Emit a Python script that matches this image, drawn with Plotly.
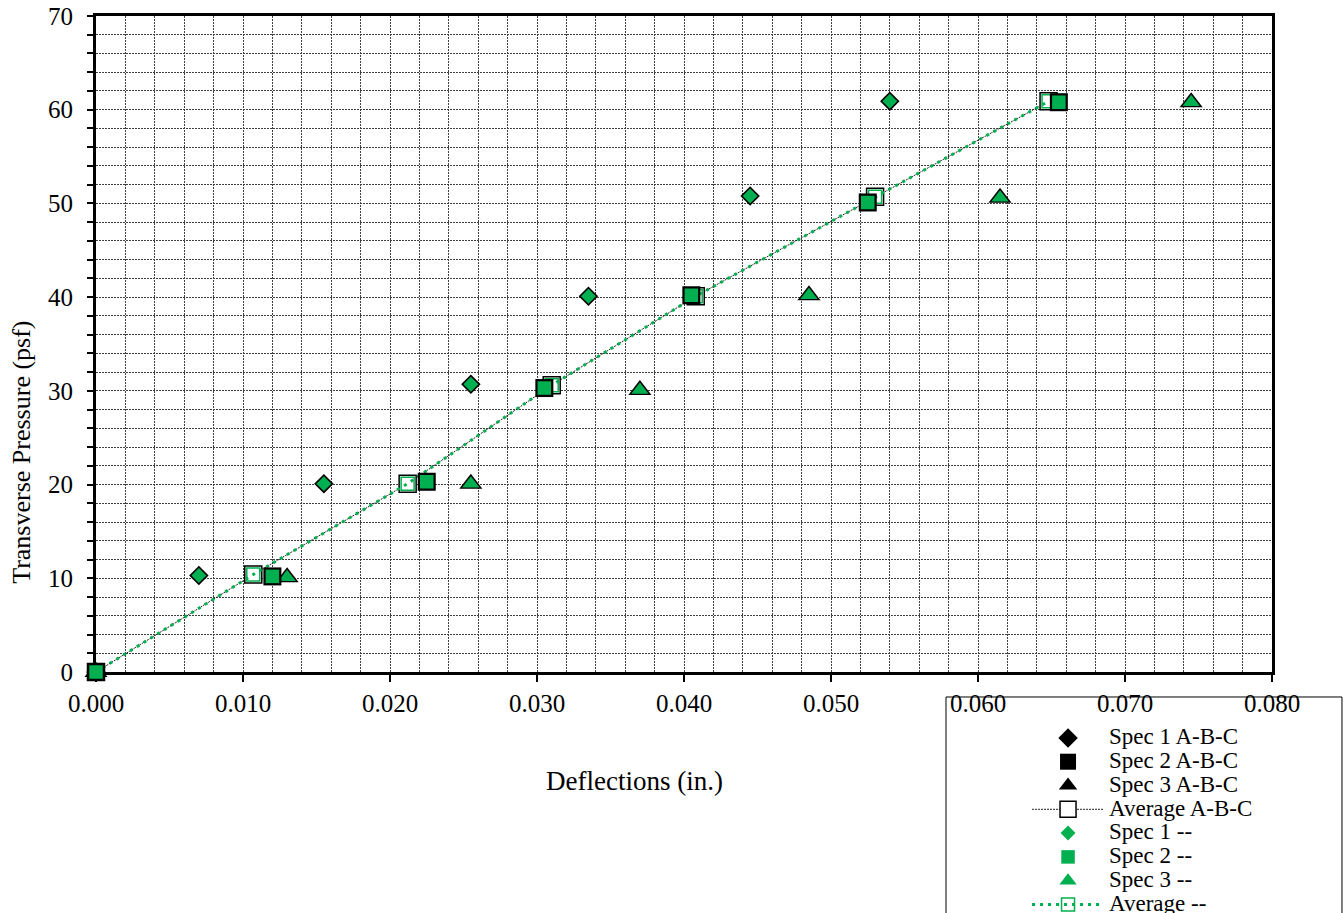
import plotly.graph_objects as go

# ---- data ----
defl_spec1 = [0.000, 0.0070, 0.0155, 0.0255, 0.0335, 0.0445, 0.0540]
pres_spec1 = [0.0, 10.3, 20.1, 30.7, 40.1, 50.8, 60.9]

defl_spec2 = [0.000, 0.0120, 0.0225, 0.0305, 0.0405, 0.0525, 0.0655]
pres_spec2 = [0.0, 10.2, 20.3, 30.3, 40.2, 50.1, 60.8]

defl_spec3 = [0.000, 0.0130, 0.0255, 0.0370, 0.0485, 0.0615, 0.0745]
pres_spec3 = [0.0, 10.1, 20.1, 30.1, 40.2, 50.6, 60.8]

defl_avg = [0.000, 0.0107, 0.0212, 0.0310, 0.0408, 0.0530, 0.0648]
pres_avg = [0.0, 10.4, 20.1, 30.6, 40.1, 50.7, 60.9]

x_tick_vals = [0.00, 0.01, 0.02, 0.03, 0.04, 0.05, 0.06, 0.07, 0.08]
x_tick_text = ["0.000", "0.010", "0.020", "0.030", "0.040", "0.050", "0.060", "0.070", "0.080"]
y_tick_vals = [0, 10, 20, 30, 40, 50, 60, 70]

names = ["Spec 1 A-B-C", "Spec 2 A-B-C", "Spec 3 A-B-C", "Average A-B-C",
         "Spec 1 --", "Spec 2 --", "Spec 3 --", "Average --"]

GREEN = "#00B050"
FONT = "Liberation Serif"


def lname(s):
    return "<span style='font-size:23px'>" + s + "</span>"


fig = go.Figure()

# averages first (drawn underneath)
fig.add_trace(go.Scatter(
    x=defl_avg, y=pres_avg, mode="lines+markers", name=lname(names[3]), legendrank=4,
    line=dict(color="#222222", width=1, dash="2px,1px"),
    marker=dict(symbol="square", size=17, color="white", line=dict(color="black", width=1.5)),
    cliponaxis=False))
fig.add_trace(go.Scatter(
    x=defl_avg, y=pres_avg, mode="lines+markers", name=lname(names[7]), legendrank=8,
    line=dict(color=GREEN, width=3, dash="3px,5px"),
    marker=dict(symbol="square-open", size=13, color=GREEN, line=dict(color=GREEN, width=1.5)),
    cliponaxis=False))

specs = [
    (defl_spec3, pres_spec3, "triangle-up", 20, 15, 2),
    (defl_spec1, pres_spec1, "diamond", 15, 11.5, 0),
    (defl_spec2, pres_spec2, "square", 18, 13.5, 1),
]
for dx, py, sym, s_big, s_small, idx in specs:
    fig.add_trace(go.Scatter(
        x=dx, y=py, mode="markers", name=lname(names[idx]), legendrank=idx + 1,
        marker=dict(symbol=sym, size=s_big, color="black"), cliponaxis=False))
    fig.add_trace(go.Scatter(
        x=dx, y=py, mode="markers", name=lname(names[idx + 4]), legendrank=idx + 5,
        marker=dict(symbol=sym, size=s_small, color=GREEN), cliponaxis=False))

grid = dict(gridcolor="#404040", gridwidth=1, griddash="2px,1px")

fig.update_xaxes(
    range=[0, 0.08], tickmode="array", tickvals=x_tick_vals, ticktext=x_tick_text,
    ticks="outside", ticklen=7, tickwidth=2, tickcolor="black",
    showline=True, linewidth=3, linecolor="black", mirror=True,
    showgrid=True, zeroline=False, layer="below traces",
    minor=dict(dtick=0.002, tick0=0, showgrid=True, ticks="", **grid),
    tickfont=dict(family=FONT, size=25, color="black"), ticklabelstandoff=0,
    **grid)
fig.update_yaxes(
    range=[0, 70], tickmode="array", tickvals=y_tick_vals,
    ticks="outside", ticklen=6, tickwidth=2, tickcolor="black",
    showline=True, linewidth=3, linecolor="black", mirror=True,
    showgrid=True, zeroline=False, layer="below traces",
    minor=dict(dtick=2, tick0=0, showgrid=True, ticks="outside", ticklen=6,
               tickwidth=2, tickcolor="black", **grid),
    tickfont=dict(family=FONT, size=25, color="black"), ticklabelstandoff=9,
    **grid)

fig.update_layout(
    width=1343, height=913,
    margin=dict(l=96, r=71, t=16, b=241, autoexpand=False),
    paper_bgcolor="white", plot_bgcolor="white",
    font=dict(family=FONT, color="black"),
    showlegend=True,
    legend=dict(
        x=0.7917, xanchor="left", y=-0.0747, yanchor="top",
        font=dict(family=FONT, size=16, color="black"),
        itemwidth=72, itemsizing="trace", borderwidth=0,
        bgcolor="rgba(0,0,0,0)", traceorder="normal"),
    annotations=[
        dict(text="Deflections (in.)", xref="paper", yref="paper",
             x=0.4575, y=-0.166, xanchor="center", yanchor="middle", showarrow=False,
             font=dict(family=FONT, size=27, color="black")),
        dict(text="Transverse Pressure (psf)", xref="paper", yref="paper",
             x=-0.0633, y=0.335, xanchor="center", yanchor="middle", showarrow=False,
             textangle=-90, font=dict(family=FONT, size=26, color="black")),
    ],
    shapes=[
        dict(type="rect", xref="paper", yref="paper",
             x0=0.7228, x1=1.0595, y0=-0.0381, y1=-0.40,
             line=dict(color="black", width=1), fillcolor="rgba(0,0,0,0)", layer="above"),
    ],
)

fig.write_html("out.html", config={"displayModeBar": False},
               post_script="document.body.style.margin='0';document.body.style.overflow='hidden';")
